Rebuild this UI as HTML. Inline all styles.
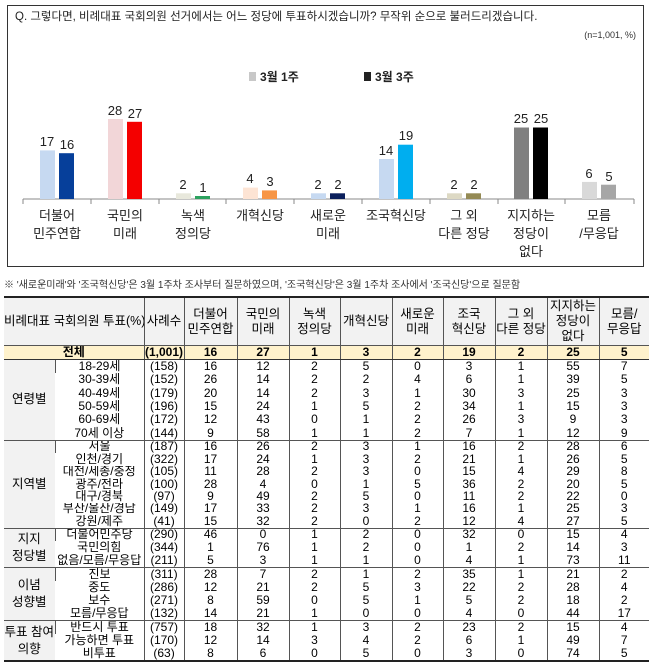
<!DOCTYPE html>
<html><head><meta charset="utf-8"><style>
body{margin:0;width:654px;height:668px;background:#fff;font-family:"Liberation Sans","Noto Sans CJK KR",sans-serif;overflow:hidden;position:relative}
.chart{position:absolute;left:7px;top:5px;width:635px;height:260px;border:1px solid #333}
table{position:absolute;left:4px;top:296px;width:645px;border-collapse:collapse;font-size:12px;table-layout:fixed;border-top:2px solid #222;border-bottom:2px solid #222}
td,th{border-left:1px solid #555;padding:0;text-align:center;line-height:11px;font-weight:normal;white-space:nowrap;overflow:hidden}
td:first-child,th:first-child{border-left:none}
th{background:#f2f2f2;height:47px;border-bottom:1px solid #555;font-size:12.5px;line-height:15px}
tr.tot td{background:#fff2cc;font-weight:bold;height:13px;border-bottom:1px solid #333;border-top:1px solid #333}
td.g{background:#f2f2f2;font-size:12.5px;line-height:17px}
tr.sep td{border-top:1px solid #555}
tr.a td{height:13.3px}tr.r td{height:12.4px}tr.p td{height:12.7px}tr.i td{height:13px}tr.v td{height:13.3px}
tr td.g{height:auto}
</style></head><body>
<div class="chart">
<svg width="635" height="260" style="position:absolute;left:0;top:0" font-family="Liberation Sans,Noto Sans CJK KR,sans-serif">
<text x="7" y="14" font-size="11.5" fill="#222">Q. 그렇다면, 비례대표 국회의원 선거에서는 어느 정당에 투표하시겠습니까? 무작위 순으로 불러드리겠습니다.</text>
<text x="628" y="32" font-size="9" fill="#333" text-anchor="end">(n=1,001, %)</text>
<rect x="241" y="66" width="7" height="9" fill="#c8c8c8"/><text x="252" y="75" font-size="12" font-weight="bold" fill="#222">3월 1주</text>
<rect x="356" y="66" width="7" height="9" fill="#222"/><text x="367" y="75" font-size="12" font-weight="bold" fill="#222">3월 3주</text>
<line x1="15" y1="193" x2="626" y2="193" stroke="#888"/>
<g stroke="#888">
<line x1="15" y1="193" x2="15" y2="198"/><line x1="83" y1="193" x2="83" y2="198"/><line x1="151" y1="193" x2="151" y2="198"/><line x1="218" y1="193" x2="218" y2="198"/><line x1="286" y1="193" x2="286" y2="198"/><line x1="354" y1="193" x2="354" y2="198"/><line x1="422" y1="193" x2="422" y2="198"/><line x1="490" y1="193" x2="490" y2="198"/><line x1="557" y1="193" x2="557" y2="198"/><line x1="626" y1="193" x2="626" y2="198"/>
</g>
<g font-size="13" fill="#222" text-anchor="middle">
<rect x="32" y="144.4" width="15" height="48.6" fill="#c6d9f1"/><rect x="51" y="147.2" width="15" height="45.8" fill="#063f9a"/>
<text x="39" y="140">17</text><text x="59" y="143">16</text>
<rect x="100" y="113" width="15" height="80" fill="#f2d6d8"/><rect x="119" y="115.8" width="15" height="77.2" fill="#f40000"/>
<text x="107" y="109">28</text><text x="127" y="112">27</text>
<rect x="168" y="187.3" width="15" height="5.7" fill="#e8e8dc"/><rect x="187" y="190" width="15" height="3" fill="#2ca25f"/>
<text x="175" y="183">2</text><text x="195" y="186">1</text>
<rect x="235" y="181.6" width="15" height="11.4" fill="#fde4d4"/><rect x="254" y="184.4" width="15" height="8.6" fill="#f79646"/>
<text x="242" y="177">4</text><text x="262" y="180">3</text>
<rect x="303" y="187.3" width="15" height="5.7" fill="#c6d9f1"/><rect x="322" y="187.3" width="15" height="5.7" fill="#0a1f5c"/>
<text x="310" y="183">2</text><text x="330" y="183">2</text>
<rect x="371" y="153" width="15" height="40" fill="#c6d9f1"/><rect x="390" y="138.7" width="15" height="54.3" fill="#00aeef"/>
<text x="378" y="149">14</text><text x="398" y="134">19</text>
<rect x="439" y="187.3" width="15" height="5.7" fill="#ddd9c4"/><rect x="458" y="187.3" width="15" height="5.7" fill="#948a54"/>
<text x="446" y="183">2</text><text x="466" y="183">2</text>
<rect x="506" y="121.5" width="15" height="71.5" fill="#808080"/><rect x="525" y="121.5" width="15" height="71.5" fill="#000"/>
<text x="513" y="117">25</text><text x="533" y="117">25</text>
<rect x="574" y="175.9" width="15" height="17.1" fill="#d9d9d9"/><rect x="593" y="178.7" width="15" height="14.3" fill="#a6a6a6"/>
<text x="581" y="172">6</text><text x="601" y="175">5</text>
</g>
<g font-size="13" fill="#222" text-anchor="middle">
<text x="49" y="214">더불어</text><text x="49" y="232">민주연합</text>
<text x="117" y="214">국민의</text><text x="117" y="232">미래</text>
<text x="185" y="214">녹색</text><text x="185" y="232">정의당</text>
<text x="252" y="214">개혁신당</text>
<text x="320" y="214">새로운</text><text x="320" y="232">미래</text>
<text x="388" y="214">조국혁신당</text>
<text x="456" y="214">그 외</text><text x="456" y="232">다른 정당</text>
<text x="523" y="214">지지하는</text><text x="523" y="232">정당이</text><text x="523" y="250">없다</text>
<text x="591" y="214">모름</text><text x="591" y="232">/무응답</text>
</g>
</svg>
</div>
<div style="position:absolute;left:4px;top:276px;font-size:10px;color:#333">※ '새로운미래'와 '조국혁신당'은 3월 1주차 조사부터 질문하였으며, '조국혁신당'은 3월 1주차 조사에서 '조국신당'으로 질문함</div>
<table>
<colgroup><col style="width:51px"><col style="width:89px"><col style="width:40px"><col style="width:53px"><col style="width:52px"><col style="width:51px"><col style="width:52px"><col style="width:51px"><col style="width:52px"><col style="width:52px"><col style="width:52px"><col style="width:50px"></colgroup>
<tr><th colspan="2">비례대표 국회의원 투표(%)</th><th>사례수</th><th>더불어<br>민주연합</th><th>국민의<br>미래</th><th>녹색<br>정의당</th><th>개혁신당</th><th>새로운<br>미래</th><th>조국<br>혁신당</th><th>그 외<br>다른 정당</th><th>지지하는<br>정당이<br>없다</th><th>모름/<br>무응답</th></tr>
<tr class="tot"><td colspan="2">전체</td><td>(1,001)</td><td>16</td><td>27</td><td>1</td><td>3</td><td>2</td><td>19</td><td>2</td><td>25</td><td>5</td></tr>
<tr class="a"><td class="g" rowspan="6">연령별</td><td>18-29세</td><td>(158)</td><td>16</td><td>12</td><td>2</td><td>5</td><td>0</td><td>3</td><td>1</td><td>55</td><td>7</td></tr>
<tr class="a"><td>30-39세</td><td>(152)</td><td>26</td><td>14</td><td>2</td><td>2</td><td>4</td><td>6</td><td>1</td><td>39</td><td>5</td></tr>
<tr class="a"><td>40-49세</td><td>(179)</td><td>20</td><td>14</td><td>2</td><td>3</td><td>1</td><td>30</td><td>3</td><td>25</td><td>3</td></tr>
<tr class="a"><td>50-59세</td><td>(196)</td><td>15</td><td>24</td><td>1</td><td>5</td><td>2</td><td>34</td><td>1</td><td>15</td><td>3</td></tr>
<tr class="a"><td>60-69세</td><td>(172)</td><td>12</td><td>43</td><td>0</td><td>1</td><td>2</td><td>26</td><td>3</td><td>9</td><td>3</td></tr>
<tr class="a"><td>70세 이상</td><td>(144)</td><td>9</td><td>58</td><td>1</td><td>1</td><td>2</td><td>7</td><td>1</td><td>12</td><td>9</td></tr>
<tr class="sep r"><td class="g" rowspan="7">지역별</td><td>서울</td><td>(187)</td><td>16</td><td>26</td><td>2</td><td>3</td><td>1</td><td>16</td><td>2</td><td>28</td><td>6</td></tr>
<tr class="r"><td>인천/경기</td><td>(322)</td><td>17</td><td>24</td><td>1</td><td>3</td><td>2</td><td>21</td><td>1</td><td>26</td><td>5</td></tr>
<tr class="r"><td>대전/세종/충청</td><td>(105)</td><td>11</td><td>28</td><td>2</td><td>3</td><td>0</td><td>15</td><td>4</td><td>29</td><td>8</td></tr>
<tr class="r"><td>광주/전라</td><td>(100)</td><td>28</td><td>4</td><td>0</td><td>1</td><td>5</td><td>36</td><td>2</td><td>20</td><td>5</td></tr>
<tr class="r"><td>대구/경북</td><td>(97)</td><td>9</td><td>49</td><td>2</td><td>5</td><td>0</td><td>11</td><td>2</td><td>22</td><td>0</td></tr>
<tr class="r"><td>부산/울산/경남</td><td>(149)</td><td>17</td><td>33</td><td>2</td><td>3</td><td>1</td><td>16</td><td>1</td><td>25</td><td>3</td></tr>
<tr class="r"><td>강원/제주</td><td>(41)</td><td>15</td><td>32</td><td>2</td><td>0</td><td>2</td><td>12</td><td>4</td><td>27</td><td>5</td></tr>
<tr class="sep p"><td class="g" rowspan="3">지지<br>정당별</td><td>더불어민주당</td><td>(290)</td><td>46</td><td>0</td><td>1</td><td>2</td><td>0</td><td>32</td><td>0</td><td>15</td><td>4</td></tr>
<tr class="p"><td>국민의힘</td><td>(344)</td><td>1</td><td>76</td><td>1</td><td>2</td><td>0</td><td>1</td><td>2</td><td>14</td><td>3</td></tr>
<tr class="p"><td>없음/모름/무응답</td><td>(211)</td><td>5</td><td>3</td><td>1</td><td>1</td><td>0</td><td>4</td><td>1</td><td>73</td><td>11</td></tr>
<tr class="sep i"><td class="g" rowspan="4">이념<br>성향별</td><td>진보</td><td>(311)</td><td>28</td><td>7</td><td>2</td><td>1</td><td>2</td><td>35</td><td>1</td><td>21</td><td>2</td></tr>
<tr class="i"><td>중도</td><td>(286)</td><td>12</td><td>21</td><td>2</td><td>5</td><td>3</td><td>22</td><td>2</td><td>28</td><td>4</td></tr>
<tr class="i"><td>보수</td><td>(271)</td><td>8</td><td>59</td><td>0</td><td>5</td><td>1</td><td>5</td><td>2</td><td>18</td><td>2</td></tr>
<tr class="i"><td>모름/무응답</td><td>(132)</td><td>14</td><td>21</td><td>1</td><td>0</td><td>0</td><td>4</td><td>0</td><td>44</td><td>17</td></tr>
<tr class="sep v"><td class="g" rowspan="3">투표 참여<br>의향</td><td>반드시 투표</td><td>(757)</td><td>18</td><td>32</td><td>1</td><td>3</td><td>2</td><td>23</td><td>2</td><td>15</td><td>4</td></tr>
<tr class="v"><td>가능하면 투표</td><td>(170)</td><td>12</td><td>14</td><td>3</td><td>4</td><td>2</td><td>6</td><td>1</td><td>49</td><td>7</td></tr>
<tr class="v"><td>비투표</td><td>(63)</td><td>8</td><td>6</td><td>0</td><td>5</td><td>0</td><td>3</td><td>0</td><td>74</td><td>5</td></tr>
</table>
</body></html>
